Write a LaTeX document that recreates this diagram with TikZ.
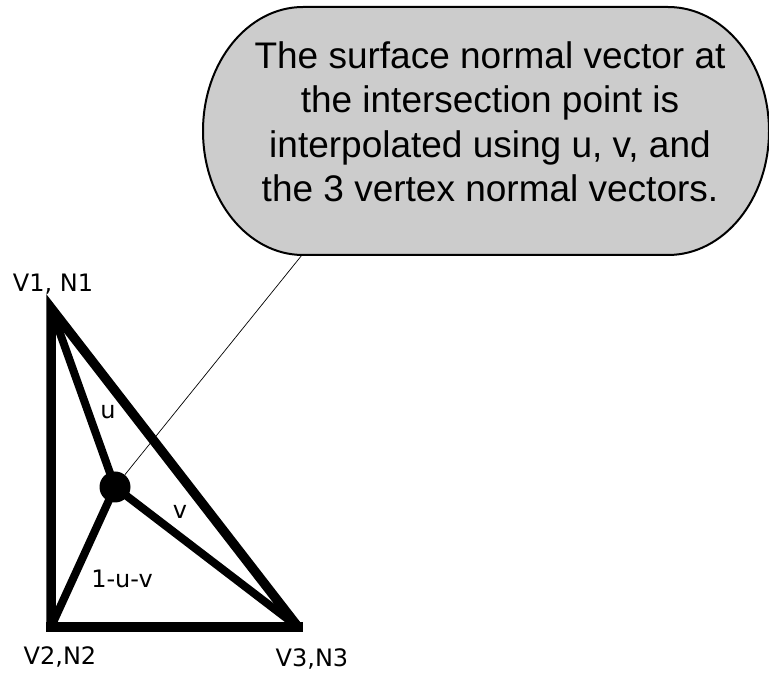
\documentclass[tikz,border=0pt]{standalone}
\usepackage{fontspec}
\setmainfont{Liberation Sans}
\newfontfamily\labfont{DejaVu Sans}
\begin{document}
\begin{tikzpicture}[x=1pt,y=1pt,
  tri/.style={line width=9.5pt,line join=miter},
  spoke/.style={line width=8pt},
  lab/.style={font=\labfont\fontsize{24}{28}\selectfont,inner sep=0pt},
  callout/.style={fill=black!20,draw=black,line width=2pt}]
\useasboundingbox (0,0) rectangle (769,675);
% callout
\draw[callout] (303,668) -- (668,668)
  arc[start angle=90,end angle=0,x radius=101,y radius=124]
  arc[start angle=0,end angle=-90,x radius=101,y radius=124]
  -- (303,420)
  arc[start angle=270,end angle=180,x radius=100,y radius=124]
  arc[start angle=180,end angle=90,x radius=100,y radius=124] -- cycle;
\node[align=center,font=\fontsize{37}{44.5}\selectfont,inner sep=0pt] (txt) at (490,553)
  {The surface normal vector at\\the intersection point is\\interpolated using u, v, and\\the 3 vertex normal vectors.};
\coordinate (tail) at (302,420);
% triangle
\coordinate (V1) at (51,367);
\coordinate (V2) at (51,48);
\coordinate (V3) at (298,48);
\draw[tri] (V3) -- (V1) -- (V2);
\draw[tri,line cap=rect] (V2) -- (V3);
\node[circle,fill=black,minimum size=31pt,inner sep=0pt] (D) at (115,188) {};
\draw[spoke] (D.center) -- (V1);
\draw[spoke] (D.center) -- (V2);
\draw[spoke] (D.center) -- (V3);
\draw[line width=0.7pt] (D) -- (tail);
% labels
\node[lab] (l1) at (53,391) {V1, N1};
\node[lab] (l2) at (60,18) {V2,N2};
\node[lab] (l3) at (312,16) {V3,N3};
\node[lab] (lu) at (108,263) {u};
\node[lab] (lv) at (180,163) {v};
\node[lab] (luv) at (122,96) {1-u-v};
\end{tikzpicture}
\end{document}
